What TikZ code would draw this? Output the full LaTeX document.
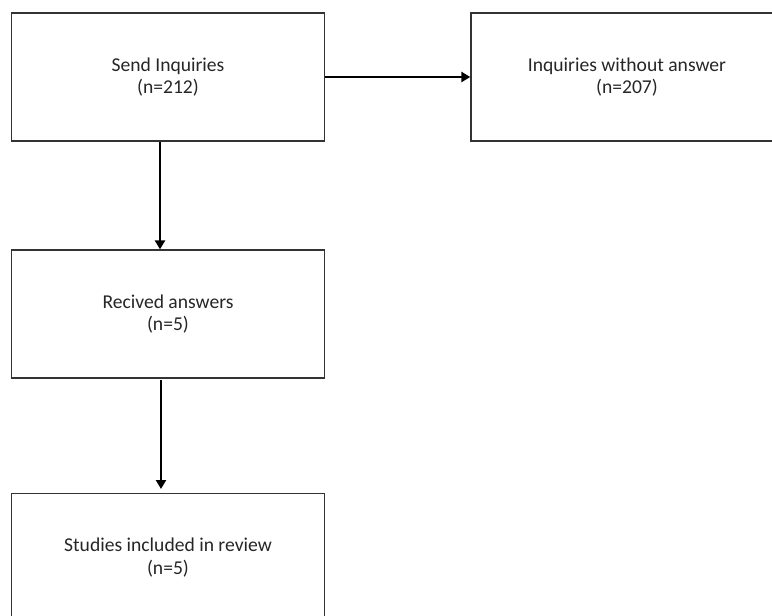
\documentclass[tikz,border=0pt]{standalone}
\usepackage{fontspec}
\setmainfont{Carlito}
\usetikzlibrary{arrows.meta}
\begin{document}
\begin{tikzpicture}[x=1pt,y=-1pt,
  box/.style={draw=black!80,line width=1.3pt,minimum width=#1,minimum height=128pt,inner sep=0pt,align=center,font=\fontsize{19.6}{22.5}\selectfont,text=black!85},
  conn/.style={line width=2.4pt,-{Triangle[length=9pt,width=10pt]}}]
\useasboundingbox (0,0) rectangle (772,616);
\node[box=313pt] (send) at (168,77) {Send Inquiries\\(n=212)};
\node[box=312pt] (without) at (627,77) {Inquiries without answer\\(n=207)};
\node[box=313pt] (recv) at (168,314) {Recived answers\\(n=5)};
\node[box=313pt] (incl) at (168,557.5) {Studies included in review\\(n=5)};
\draw[conn] (send.east) -- (without.west);
\draw[conn] (send.south -| 160,0) -- (recv.north -| 160,0);
\coordinate (a3s) at (161,380);
\coordinate (a3e) at (161,489);
\draw[conn] (a3s) -- (a3e);
\end{tikzpicture}
\end{document}
